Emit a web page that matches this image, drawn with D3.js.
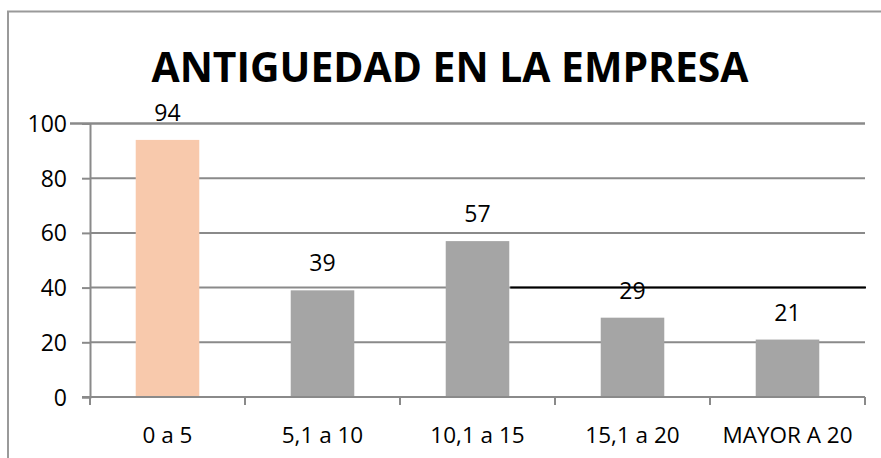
<!DOCTYPE html>
<html>
<head>
<meta charset="utf-8">
<script src="https://cdn.jsdelivr.net/npm/d3@7"></script>
<style>
  body { margin: 0; background: #fff; }
  svg { display: block; font-family: "Open Sans", "Liberation Sans", sans-serif; }
</style>
</head>
<body>
<div id="chart"></div>
<script>
// data
var categories = ["0 a 5", "5,1 a 10", "10,1 a 15", "15,1 a 20", "MAYOR A 20"];
var values     = [94, 39, 57, 29, 21];
var barColors  = ["#f8c9ac", "#a5a5a5", "#a5a5a5", "#a5a5a5", "#a5a5a5"];
var yTicks     = [0, 20, 40, 60, 80, 100];
var title      = "ANTIGUEDAD  EN  LA  EMPRESA";

var W = 881, H = 458;
var plot = { left: 90, right: 865, top: 123.5, bottom: 397 };

var svg = d3.select("#chart").append("svg")
  .attr("width", W).attr("height", H);

// outer frame (runs off the right and bottom of the picture)
svg.append("rect")
  .attr("x", 8).attr("y", 11.5)
  .attr("width", W + 20).attr("height", H + 20)
  .attr("fill", "none").attr("stroke", "#9a9a9a").attr("stroke-width", 2);

var x = d3.scaleBand().domain(categories).range([plot.left, plot.right])
  .paddingInner(0.59).paddingOuter(0.295);
var xb = d3.scaleBand().domain(categories).range([plot.left, plot.right]);
var y = d3.scaleLinear().domain([0, 100]).range([plot.bottom, plot.top]);

// gridlines
svg.append("g").selectAll("line").data(yTicks.filter(function(d) { return d > 0; }))
  .enter().append("line")
  .attr("x1", function(d) { return d === 100 ? 70 : plot.left; })
  .attr("x2", plot.right)
  .attr("y1", function(d) { return y(d); })
  .attr("y2", function(d) { return y(d); })
  .attr("stroke", "#8a8a8a")
  .attr("stroke-width", function(d) { return d === 100 ? 2.6 : 2; });

// y axis
var yAxis = svg.append("g")
  .attr("transform", "translate(" + plot.left + ",0)")
  .call(d3.axisLeft(y).tickValues(yTicks).tickSize(8).tickPadding(15));
yAxis.attr("font-size", null).attr("font-family", null);
yAxis.select(".domain").attr("stroke", "#8a8a8a").attr("stroke-width", 2);
yAxis.selectAll(".tick line").attr("stroke", "#8a8a8a").attr("stroke-width", 2);
yAxis.selectAll("text").attr("font-size", 23).attr("fill", "#000")
  .attr("dy", "0.35em");

// bars
svg.append("g").selectAll("rect").data(values).enter().append("rect")
  .attr("x", function(d, i) { return x(categories[i]); })
  .attr("y", function(d) { return y(d); })
  .attr("width", x.bandwidth())
  .attr("height", function(d) { return y(0) - y(d); })
  .attr("fill", function(d, i) { return barColors[i]; });

// x axis (ticks between categories)
var xAxisG = svg.append("g");
xAxisG.append("line")
  .attr("x1", plot.left - 8).attr("x2", plot.right)
  .attr("y1", y(0)).attr("y2", y(0))
  .attr("stroke", "#8a8a8a").attr("stroke-width", 2);
var bounds = categories.map(function(c) { return xb(c); }).concat([plot.right]);
xAxisG.selectAll("line.tk").data(bounds).enter().append("line")
  .attr("class", "tk")
  .attr("x1", function(d) { return d; }).attr("x2", function(d) { return d; })
  .attr("y1", y(0)).attr("y2", y(0) + 8)
  .attr("stroke", "#8a8a8a").attr("stroke-width", 2);
xAxisG.selectAll("text").data(categories).enter().append("text")
  .attr("x", function(d) { return xb(d) + xb.bandwidth() / 2; })
  .attr("y", 443)
  .attr("text-anchor", "middle")
  .attr("font-size", 22.5)
  .text(function(d) { return d; });

// stray black line at 40 in the reference
svg.append("line")
  .attr("x1", x(categories[2]) + x.bandwidth() + 1).attr("x2", plot.right + 1)
  .attr("y1", y(40)).attr("y2", y(40))
  .attr("stroke", "#000").attr("stroke-width", 2);

// value labels
svg.append("g").selectAll("text").data(values).enter().append("text")
  .attr("x", function(d, i) { return x(categories[i]) + x.bandwidth() / 2; })
  .attr("y", function(d) { return y(d) - 19; })
  .attr("text-anchor", "middle")
  .attr("font-size", 23)
  .text(function(d) { return d; });

// title
svg.append("text")
  .attr("x", 450).attr("y", 82)
  .attr("text-anchor", "middle")
  .attr("font-size", 41).attr("font-weight", "bold")
  .attr("textLength", 597).attr("lengthAdjust", "spacingAndGlyphs")
  .text(title);
</script>
</body>
</html>
